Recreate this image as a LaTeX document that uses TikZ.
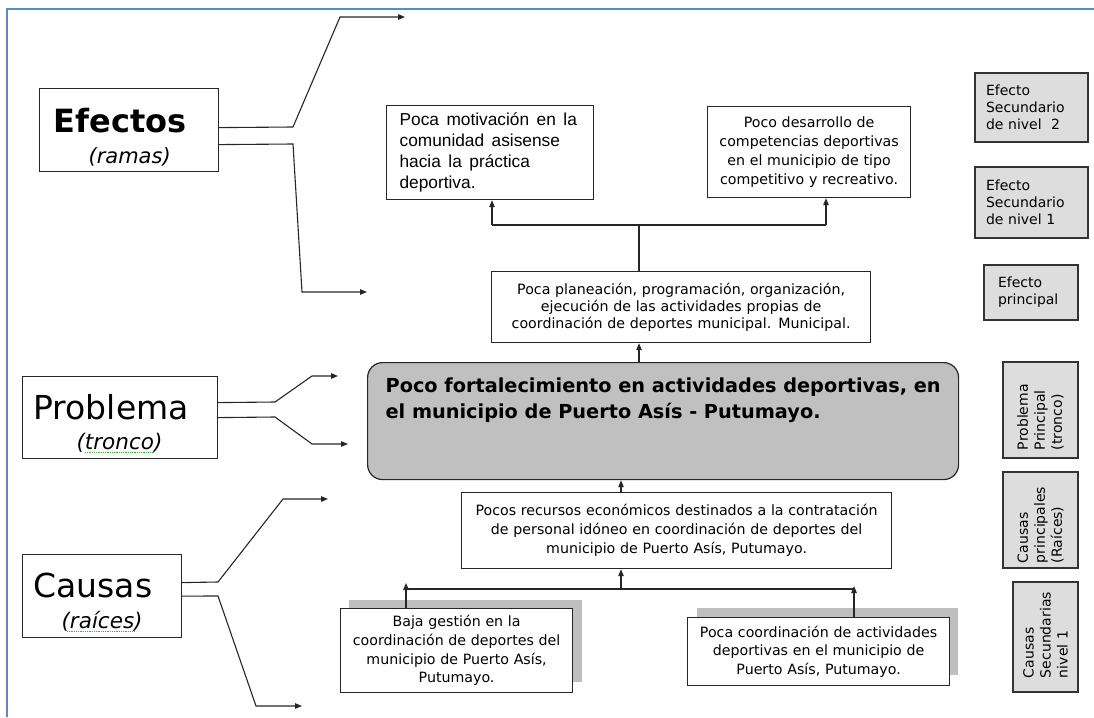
\documentclass[tikz,border=0pt]{standalone}
\usepackage{fontspec}
\setmainfont{DejaVu Sans}
\newfontfamily\arialf{Liberation Sans}
\usetikzlibrary{arrows.meta}
\definecolor{framecol}{RGB}{92,138,200}
\definecolor{probfill}{RGB}{192,192,192}
\definecolor{graybox}{RGB}{221,221,221}
\definecolor{shadowc}{RGB}{191,191,191}
\definecolor{spellgreen}{RGB}{70,170,70}
\tikzset{
  arr/.style={-{Triangle[length=7pt,width=5.5pt]}, line width=1.1pt, draw=black!85},
  ln/.style={line width=1.1pt, draw=black!85},
  wbox/.style={draw=black!85, line width=1.2pt, fill=white, inner sep=0pt, anchor=north west},
  lbox/.style={draw=black!85, line width=1.2pt, fill=white, inner sep=0pt, anchor=north west},
  gbox/.style={draw=black!80, line width=1.2pt, fill=graybox, inner ysep=0pt, align=left, font=\fontsize{14}{17}\selectfont},
  vtxt/.style={font=\fontsize{14.2}{18.7}\selectfont, align=center},
}
\begin{document}
\begin{tikzpicture}[x=1pt,y=-1pt]
\useasboundingbox (0,0) rectangle (1094,717);
\draw[framecol, line width=2.2pt] (7,717) -- (7,9) -- (1094,9);

% shadows of the bottom boxes
\fill[shadowc] (349,600) rectangle (582,682);
\fill[shadowc] (697,608) rectangle (958,675);

% left labels
\node[lbox, minimum width=179pt, minimum height=83pt] (efectos) at (39,88)
  {\parbox[c][83pt][t]{179pt}{\raggedright\fontsize{21}{31.5}\selectfont
   \hspace*{14pt}\rule{0pt}{43.5pt}{\fontsize{32}{32}\selectfont\bfseries Efectos}\\
   \hspace*{49pt}{\itshape (ramas)}}};
\node[lbox, minimum width=195pt, minimum height=82pt] (problema) at (22,376)
  {\parbox[c][82pt][t]{195pt}{\raggedright\fontsize{21.5}{30}\selectfont
   \hspace*{11pt}\rule{0pt}{43pt}{\fontsize{33}{33}\selectfont Problema}\\
   \hspace*{54pt}{\itshape (tronco)}}};
\node[lbox, minimum width=159pt, minimum height=83pt] (causas) at (22,554)
  {\parbox[c][83pt][t]{159pt}{\raggedright\fontsize{21.5}{31}\selectfont
   \hspace*{11pt}\rule{0pt}{43pt}{\fontsize{33}{33}\selectfont Causas}\\
   \hspace*{39pt}{\itshape (raíces)}}};
\draw[spellgreen, densely dotted, line width=0.8pt] (85,452) -- (154,452);
\draw[spellgreen, densely dotted, line width=0.8pt] (67,631) -- (135,631);

% main tree
\node[wbox, minimum width=207pt, minimum height=94pt, inner xsep=13pt, text width=181pt,
      align=left, font=\arialf\fontsize{17.3}{21.1}\selectfont] (mot) at (386,105)
  {\spaceskip=7.5pt plus 1pt\relax Poca motivación en la\\ comunidad asisense\\ hacia la práctica\\ deportiva.};
\node[wbox, vtxt, minimum width=203pt, minimum height=91pt, text width=203pt] (des) at (707,106)
  {Poco desarrollo de\\ competencias deportivas\\ en el municipio de tipo\\ competitivo y recreativo.};
\node[wbox, vtxt, minimum width=379pt, minimum height=71pt, text width=379pt,
      font=\fontsize{14.2}{17.3}\selectfont] (plan) at (491,271)
  {Poca planeación, programación, organización,\\ ejecución de las actividades propias de\\ coordinación de deportes municipal. Municipal.};
\node[wbox, fill=probfill, rounded corners=15pt, minimum width=591pt, minimum height=117pt] (prob) at (367,362)
  {\parbox[c][117pt][t]{555pt}{\raggedright\fontsize{19.3}{26}\selectfont\bfseries
   \rule{0pt}{30pt}Poco fortalecimiento en actividades deportivas, en\\ el municipio de Puerto Asís - Putumayo.}};
\node[wbox, vtxt, minimum width=430pt, minimum height=76pt, text width=430pt,
      font=\fontsize{14.2}{19}\selectfont] (rec) at (461,492)
  {Pocos recursos económicos destinados a la contratación\\ de personal idóneo en coordinación de deportes del\\ municipio de Puerto Asís, Putumayo.};
\node[wbox, vtxt, minimum width=232pt, minimum height=84pt, text width=232pt] (baja) at (340,608)
  {Baja gestión en la\\ coordinación de deportes del\\ municipio de Puerto Asís,\\ Putumayo.};
\node[wbox, vtxt, minimum width=262pt, minimum height=68pt, text width=262pt] (coord) at (687,617)
  {Poca coordinación de actividades\\ deportivas en el municipio de\\ Puerto Asís, Putumayo.};

% right legend boxes
\node[gbox, minimum width=113pt, minimum height=69pt, inner xsep=11pt, text width=91pt] (es2) at (1031.5,107.5)
  {Efecto\\ Secundario\\ de nivel~~2};
\node[gbox, minimum width=113pt, minimum height=71pt, inner xsep=11pt, text width=91pt] (es1) at (1031.5,202.5)
  {Efecto\\ Secundario\\ de nivel 1};
\node[gbox, minimum width=94pt, minimum height=55pt, inner xsep=14pt, text width=66pt] (ep) at (1031,292.5)
  {Efecto\\ principal};
\node[gbox, rotate=90, minimum width=96pt, minimum height=75pt, inner xsep=8pt, text width=80pt] (pp) at (1040.5,410)
  {Problema\\ Principal\\ (tronco)};
\node[gbox, rotate=90, minimum width=96pt, minimum height=75pt, inner xsep=5pt, text width=86pt] (cp) at (1040.5,520)
  {Causas\\ principales\\ (Raíces)};
\node[gbox, rotate=90, minimum width=110pt, minimum height=65pt, inner xsep=14pt, text width=82pt] (cs) at (1045.5,637)
  {Causas\\ Secundarias\\ nivel 1};

% free ends of the label arrows
\coordinate (efA) at (405,17);
\coordinate (efB) at (367,292);
\coordinate (prA) at (338,376);
\coordinate (prB) at (348,444);
\coordinate (caA) at (328,499);
\coordinate (caB) at (302,706);

\draw[arr] ([yshift=2.5pt]efectos.east) -- (293,127) -- (340,17) -- (efA);
\draw[arr] ([yshift=-14.5pt]efectos.east) -- (293,144) -- (302,292) -- (efB);
\draw[arr] ([yshift=15pt]problema.east) -- (275,402) -- (312,376) -- (prA);
\draw[arr] (problema.east) -- (275,417) -- (312,444) -- (prB);
\draw[arr] ([yshift=13.5pt]causas.east) -- (218,582) -- (283,499) -- (caA);
\draw[arr] (causas.east) -- (218,596) -- (256,706) -- (caB);

% tree connectors
\coordinate (tx) at (639,225);
\coordinate (ml) at (492,225);
\coordinate (mr) at (826,225);
\draw[ln] (plan.north -| tx) -- (tx);
\draw[ln] (ml) -- (mr);
\draw[arr] (ml) -- (mot.south -| ml);
\draw[arr] (mr) -- (des.south -| mr);
\draw[arr] (prob.north -| tx) -- (plan.south -| tx);

\coordinate (rx) at (621,589);
\coordinate (bx) at (406,589);
\coordinate (cx) at (854,589);
\draw[arr] (rec.north -| rx) -- (prob.south -| rx);
\draw[ln] (bx) -- (cx);
\draw[arr] (rx) -- (rec.south -| rx);
\draw[arr] (baja.north -| bx) -- ([yshift=6pt]bx);
\draw[arr] (coord.north -| cx) -- ([yshift=3pt]cx);
\end{tikzpicture}
\end{document}
